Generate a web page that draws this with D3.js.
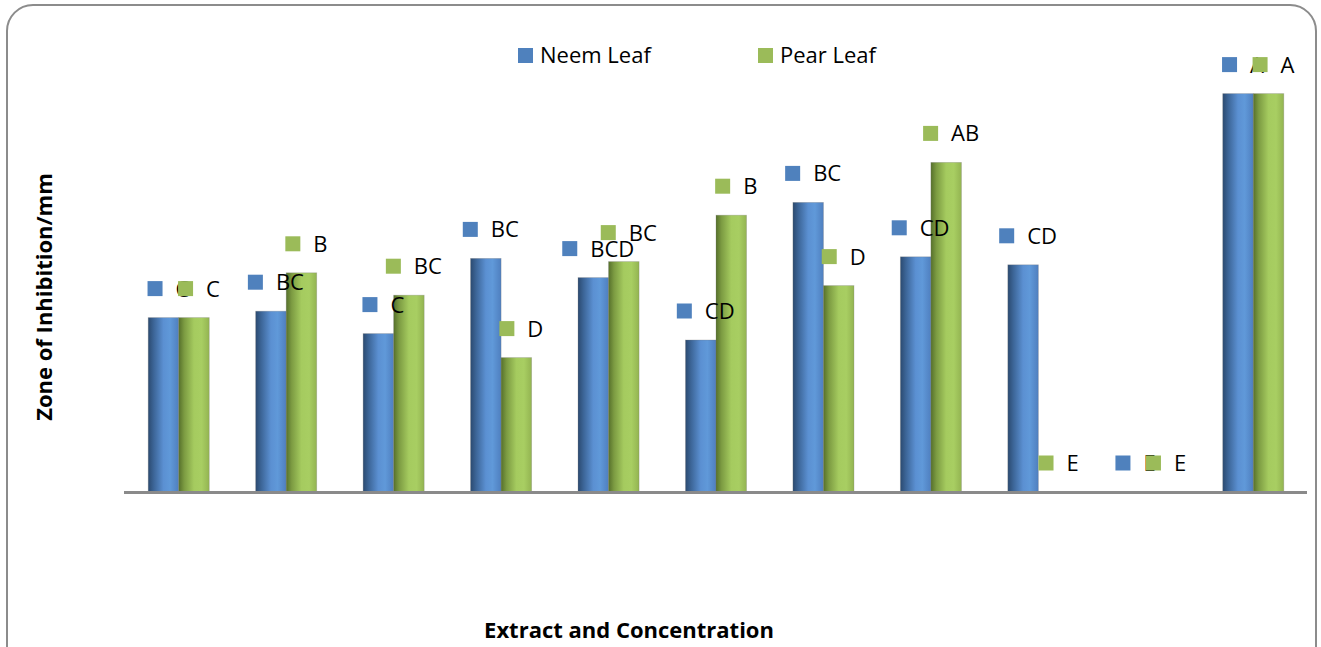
<!DOCTYPE html>
<html>
<head>
<meta charset="utf-8">
<script src="https://cdn.jsdelivr.net/npm/d3@7"></script>
<style>
  body { margin: 0; background: #fff; }
  svg { display: block; font-family: "Open Sans", sans-serif; }
</style>
</head>
<body>
<svg id="chart" width="1321" height="647"></svg>
<script>
// extract / concentration groups (no category labels are printed on the axis)
var categories = ['1', '2', '3', '4', '5', '6', '7', '8', '9', '10', '11'];
var seriesNames = ['Neem Leaf', 'Pear Leaf'];

// zone of inhibition, mm
var neemValues = [10.9, 11.3, 9.9, 14.6, 13.4, 9.5, 18.1, 14.7, 14.2, 0, 24.9];
var pearValues = [10.9, 13.7, 12.3, 8.4, 14.4, 17.3, 12.9, 20.6, 0, 0, 24.9];

// significance letters
var neemLetters = ['C', 'BC', 'C', 'BC', 'BCD', 'CD', 'BC', 'CD', 'CD', 'E', 'A'];
var pearLetters = ['C', 'B', 'BC', 'D', 'BC', 'B', 'D', 'AB', 'E', 'E', 'A'];

var colors = { 'Neem Leaf': '#4f81bd', 'Pear Leaf': '#9bbb59' };

var svg = d3.select('#chart');

// gradients for the cylinder-ish look
var defs = svg.append('defs');
function addGradient(id, stops) {
  var g = defs.append('linearGradient').attr('id', id)
    .attr('x1', '0%').attr('x2', '100%').attr('y1', '0%').attr('y2', '0%');
  stops.forEach(function(s) {
    g.append('stop').attr('offset', s[0]).attr('stop-color', s[1]);
  });
}
addGradient('grad-neem', [['0%', '#2b4a70'], ['18%', '#3c6597'], ['50%', '#5b90d2'], ['72%', '#6099d9'], ['100%', '#4f7fbf']]);
addGradient('grad-pear', [['0%', '#56702b'], ['18%', '#7c9b42'], ['50%', '#a5cb5f'], ['75%', '#a8ce62'], ['100%', '#93b451']]);
var fills = { 'Neem Leaf': 'url(#grad-neem)', 'Pear Leaf': 'url(#grad-pear)' };

// chart frame
svg.append('rect')
  .attr('x', 7).attr('y', 5)
  .attr('width', 1309).attr('height', 670)
  .attr('rx', 26).attr('ry', 26)
  .attr('fill', '#fff')
  .attr('stroke', '#8c8c8c')
  .attr('stroke-width', 2);

var x0 = d3.scaleBand().domain(categories).range([125, 1307]).padding(0);
var x1 = d3.scaleBand().domain(seriesNames).range([0, x0.bandwidth()]).paddingOuter(0.76);
var y = d3.scaleLinear().domain([0, 26]).range([492, 76]);

var rows = categories.map(function(c, i) {
  return {
    cat: c,
    items: [
      { name: 'Neem Leaf', value: neemValues[i], letter: neemLetters[i] },
      { name: 'Pear Leaf', value: pearValues[i], letter: pearLetters[i] }
    ]
  };
});

// bars
var groups = svg.append('g').selectAll('g')
  .data(rows).enter().append('g')
  .attr('transform', function(d) { return 'translate(' + x0(d.cat) + ',0)'; });

groups.selectAll('rect')
  .data(function(d) { return d.items; }).enter()
  .append('rect')
  .attr('x', function(d) { return x1(d.name); })
  .attr('width', x1.bandwidth())
  .attr('y', function(d) { return y(d.value); })
  .attr('height', function(d) { return y(0) - y(d.value); })
  .attr('fill', function(d) { return fills[d.name]; })
  .attr('stroke', 'rgba(120,120,120,0.35)')
  .attr('stroke-width', 0.8);

// x axis line
svg.append('line')
  .attr('x1', 124).attr('x2', 1307)
  .attr('y1', y(0) + 0.5).attr('y2', y(0) + 0.5)
  .attr('stroke', '#8a8a8a')
  .attr('stroke-width', 3);

// data labels: legend key + letter, neem first so pear keys sit on top
var labelLayer = svg.append('g');
seriesNames.forEach(function(name, si) {
  var vals = si === 0 ? neemValues : pearValues;
  var lets = si === 0 ? neemLetters : pearLetters;
  categories.forEach(function(c, i) {
    var cx = x0(c) + x1(name) + x1.bandwidth() / 2 + 5;
    var cy = y(vals[i]) - 29;
    var g = labelLayer.append('g');
    var t = g.append('text')
      .attr('font-size', 22)
      .attr('fill', '#000')
      .text(lets[i]);
    var tw = t.node().getComputedTextLength();
    var total = 15 + 13 + tw;
    var left = cx - total / 2;
    t.attr('x', left + 28).attr('y', cy + 8);
    g.append('rect')
      .attr('x', left).attr('y', cy - 7.5)
      .attr('width', 15).attr('height', 15)
      .attr('fill', colors[name]);
  });
});

// legend
var legendX = [518, 758];
seriesNames.forEach(function(name, i) {
  svg.append('rect')
    .attr('x', legendX[i]).attr('y', 48)
    .attr('width', 15).attr('height', 15)
    .attr('fill', colors[name]);
  svg.append('text')
    .attr('x', legendX[i] + 22).attr('y', 63)
    .attr('font-size', 22)
    .attr('fill', '#000')
    .text(name);
});

// axis titles
svg.append('text')
  .attr('x', 629).attr('y', 638)
  .attr('text-anchor', 'middle')
  .attr('font-size', 22)
  .attr('font-weight', 'bold')
  .text('Extract and Concentration');

svg.append('text')
  .attr('transform', 'translate(52,297) rotate(-90)')
  .attr('text-anchor', 'middle')
  .attr('font-size', 22)
  .attr('font-weight', 'bold')
  .text('Zone of Inhibition/mm');
</script>
</body>
</html>
